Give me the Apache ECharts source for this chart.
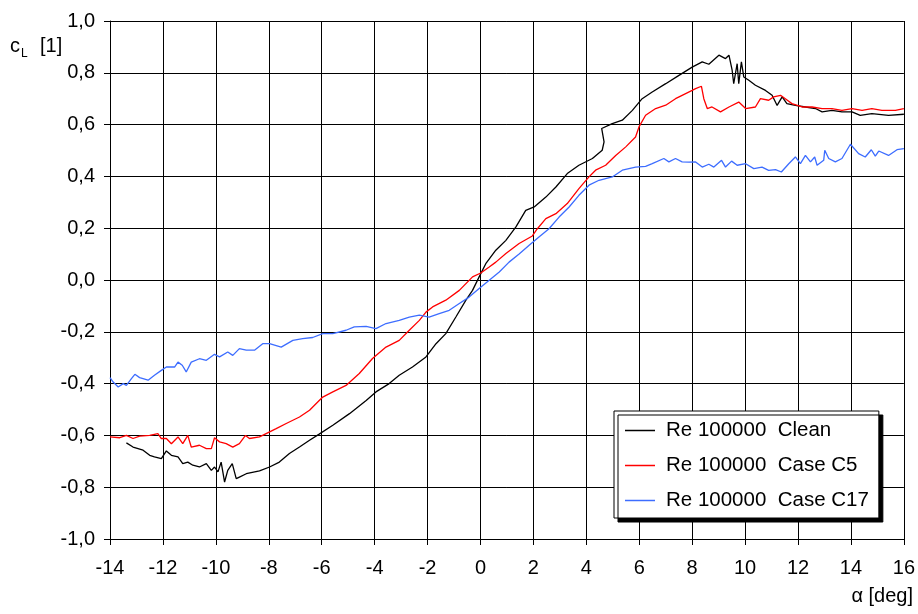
<!DOCTYPE html>
<html>
<head>
<meta charset="utf-8">
<script src="https://cdn.jsdelivr.net/npm/echarts@6/dist/echarts.min.js"></script>
<style>
  html, body { margin: 0; padding: 0; background: #fff; }
  #chart { width: 918px; height: 614px; }
</style>
</head>
<body>
<div id="chart"></div>
<script>
// Lift coefficient vs. angle of attack, Re 100000

const seriesNames = ['Re 100000  Clean', 'Re 100000  Case C5', 'Re 100000  Case C17'];

const cleanAlpha = [-13.38,-13.13,-12.75,-12.5,-12.32,-12.06,-11.87,-11.68,-11.43,-11.25,-11.06,-10.87,-10.62,-10.36,-10.17,-10.05,-9.92,-9.80,-9.67,-9.55,-9.38,-9.23,-9.11,-8.85,-8.35,-7.97,-7.60,-7.22,-6.84,-6.46,-6.11,-5.58,-4.95,-4.32,-3.95,-3.45,-3.07,-2.57,-2.06,-1.68,-1.31,-0.93,-0.55,-0.30,-0.05,0.20,0.58,0.96,1.34,1.71,2.03,2.47,2.85,3.28,3.72,4.23,4.60,4.67,4.58,4.98,5.36,5.74,6.11,6.49,7.0,7.5,8.0,8.38,8.63,9.01,9.26,9.39,9.51,9.57,9.70,9.76,9.86,9.95,10.14,10.39,10.77,11.02,11.21,11.40,11.58,11.90,12.28,12.66,12.91,13.28,13.66,14.04,14.35,14.79,15.42,16.0];
const cleanCl = [-0.629,-0.645,-0.657,-0.677,-0.683,-0.690,-0.660,-0.677,-0.683,-0.709,-0.703,-0.715,-0.722,-0.709,-0.735,-0.722,-0.741,-0.703,-0.780,-0.735,-0.709,-0.767,-0.761,-0.748,-0.737,-0.722,-0.703,-0.670,-0.645,-0.619,-0.596,-0.561,-0.516,-0.465,-0.432,-0.400,-0.368,-0.336,-0.297,-0.246,-0.207,-0.143,-0.078,-0.040,0.012,0.063,0.115,0.153,0.205,0.269,0.282,0.320,0.359,0.411,0.443,0.469,0.501,0.533,0.585,0.604,0.617,0.655,0.700,0.726,0.758,0.790,0.822,0.842,0.833,0.868,0.855,0.868,0.810,0.758,0.835,0.758,0.842,0.784,0.771,0.752,0.732,0.713,0.674,0.707,0.681,0.674,0.668,0.662,0.649,0.655,0.649,0.649,0.636,0.642,0.636,0.640];

const c5Alpha = [-14.0,-13.63,-13.38,-13.13,-12.88,-12.5,-12.19,-12.06,-11.87,-11.68,-11.43,-11.25,-11.06,-10.93,-10.62,-10.36,-10.17,-10.05,-9.86,-9.61,-9.36,-9.11,-8.88,-8.73,-8.35,-8.10,-7.72,-7.34,-6.84,-6.46,-6.15,-5.96,-5.58,-5.08,-4.58,-4.08,-3.57,-3.07,-2.69,-2.31,-2.06,-1.81,-1.31,-0.80,-0.30,0.01,0.33,0.58,0.96,1.46,1.96,2.15,2.47,2.85,3.28,3.72,4.10,4.35,4.73,5.11,5.49,5.86,5.99,6.24,6.62,7.0,7.37,7.62,8.0,8.13,8.35,8.44,8.57,8.75,9.07,9.39,9.76,10.02,10.39,10.58,10.89,11.08,11.34,11.52,11.77,12.15,12.53,12.91,13.28,13.66,14.04,14.42,14.79,15.17,15.68,16.0];
const c5Cl = [-0.606,-0.609,-0.600,-0.612,-0.603,-0.600,-0.593,-0.612,-0.612,-0.632,-0.606,-0.632,-0.600,-0.645,-0.638,-0.651,-0.651,-0.609,-0.625,-0.632,-0.645,-0.632,-0.600,-0.612,-0.606,-0.593,-0.574,-0.554,-0.529,-0.503,-0.471,-0.452,-0.432,-0.407,-0.361,-0.303,-0.259,-0.233,-0.194,-0.156,-0.124,-0.104,-0.078,-0.040,0.012,0.027,0.050,0.069,0.102,0.141,0.170,0.198,0.237,0.256,0.295,0.353,0.398,0.424,0.443,0.481,0.514,0.552,0.591,0.636,0.662,0.675,0.700,0.713,0.732,0.739,0.748,0.700,0.662,0.668,0.649,0.668,0.687,0.662,0.668,0.700,0.694,0.707,0.713,0.700,0.681,0.668,0.668,0.662,0.662,0.655,0.662,0.655,0.662,0.655,0.655,0.662];

const c17Alpha = [-14.0,-13.88,-13.69,-13.50,-13.38,-13.19,-13.06,-12.88,-12.56,-12.32,-12.06,-11.87,-11.56,-11.43,-11.27,-11.12,-10.93,-10.62,-10.36,-10.05,-9.86,-9.55,-9.36,-9.11,-8.85,-8.54,-8.23,-7.97,-7.53,-7.09,-6.72,-6.34,-5.96,-5.58,-5.08,-4.77,-4.32,-3.95,-3.57,-3.07,-2.69,-2.31,-1.94,-1.56,-1.18,-0.80,-0.43,-0.05,0.33,0.71,1.08,1.46,1.84,2.21,2.59,2.97,3.35,3.72,4.10,4.48,4.98,5.36,5.86,6.24,6.49,6.93,7.12,7.37,7.62,7.88,8.13,8.38,8.63,8.82,9.11,9.26,9.49,9.70,10.02,10.33,10.64,10.89,11.15,11.37,11.65,11.90,12.09,12.28,12.47,12.63,12.72,12.97,13.01,13.16,13.41,13.66,13.98,14.29,14.54,14.77,14.92,15.05,15.42,15.74,16.0];
const c17Cl = [-0.377,-0.394,-0.413,-0.400,-0.407,-0.381,-0.364,-0.377,-0.387,-0.368,-0.349,-0.336,-0.336,-0.317,-0.329,-0.355,-0.317,-0.304,-0.310,-0.287,-0.297,-0.278,-0.291,-0.265,-0.271,-0.271,-0.246,-0.246,-0.259,-0.233,-0.226,-0.222,-0.207,-0.207,-0.194,-0.181,-0.179,-0.188,-0.168,-0.156,-0.143,-0.136,-0.143,-0.130,-0.117,-0.091,-0.066,-0.033,-0.001,0.031,0.069,0.100,0.134,0.166,0.198,0.243,0.282,0.327,0.366,0.385,0.398,0.424,0.436,0.439,0.449,0.469,0.456,0.469,0.456,0.455,0.456,0.436,0.447,0.436,0.462,0.436,0.459,0.443,0.449,0.430,0.436,0.423,0.426,0.417,0.449,0.475,0.449,0.481,0.456,0.475,0.443,0.462,0.501,0.469,0.456,0.469,0.524,0.488,0.475,0.503,0.478,0.498,0.481,0.503,0.507];

const xTicks = { min: -14, max: 16, step: 2 };
const yTicks = { min: -1, max: 1, step: 0.2 };

const FONT = '"Liberation Sans", Arial, sans-serif';
const zip = (xs, ys) => xs.map((x, i) => [x, ys[i]]);

const chart = echarts.init(document.getElementById('chart'), null, { renderer: 'canvas' });

const lineSeries = (name, xs, ys, color) => ({
  name,
  type: 'line',
  data: zip(xs, ys),
  showSymbol: false,
  symbol: 'none',
  smooth: false,
  animation: false,
  lineStyle: { color, width: 1.3 },
  itemStyle: { color }
});

chart.setOption({
  backgroundColor: '#fff',
  animation: false,
  grid: { left: 110, top: 21, width: 795, height: 518, containLabel: false },
  xAxis: {
    type: 'value',
    min: xTicks.min, max: xTicks.max, interval: xTicks.step,
    axisLine: { onZero: false, lineStyle: { color: '#000', width: 1 } },
    axisTick: { show: true, length: 6, lineStyle: { color: '#000' } },
    axisLabel: { color: '#000', fontSize: 20, fontFamily: FONT, margin: 19 },
    splitLine: { show: true, lineStyle: { color: '#000', width: 1 } }
  },
  yAxis: {
    type: 'value',
    min: yTicks.min, max: yTicks.max, interval: yTicks.step,
    axisLine: { show: true, onZero: false, lineStyle: { color: '#000', width: 1 } },
    axisTick: { show: true, length: 6, lineStyle: { color: '#000' } },
    axisLabel: {
      color: '#000', fontSize: 20, fontFamily: FONT, margin: 15,
      formatter: v => v.toFixed(1).replace('.', ',')
    },
    splitLine: { show: true, lineStyle: { color: '#000', width: 1 } }
  },
  legend: {
    orient: 'vertical',
    left: 614, top: 411,
    icon: 'rect',
    itemWidth: 30, itemHeight: 1.5, itemGap: 14,
    padding: [9, 10, 7, 11],
    backgroundColor: '#fff',
    borderColor: '#000', borderWidth: 1, borderRadius: 0,
    shadowColor: '#000', shadowBlur: 0, shadowOffsetX: 4, shadowOffsetY: 4,
    textStyle: { color: '#000', fontSize: 20.5, fontFamily: FONT, lineHeight: 20, padding: [0, 0, 0, 6] },
    data: seriesNames
  },
  graphic: [
    { type: 'text', left: 10, top: 36, style: { text: 'c', font: '20px ' + FONT, fill: '#000' } },
    { type: 'text', left: 21, top: 48, style: { text: 'L', font: '12px ' + FONT, fill: '#000' } },
    { type: 'text', left: 40, top: 36, style: { text: '[1]', font: '20px ' + FONT, fill: '#000' } },
    { type: 'text', right: 5, top: 586, style: { text: 'α [deg]', font: '20px ' + FONT, fill: '#000' } }
  ],
  series: [
    lineSeries(seriesNames[0], cleanAlpha, cleanCl, '#000000'),
    lineSeries(seriesNames[1], c5Alpha, c5Cl, '#ff0000'),
    lineSeries(seriesNames[2], c17Alpha, c17Cl, '#3d6dff')
  ]
});
</script>
</body>
</html>
